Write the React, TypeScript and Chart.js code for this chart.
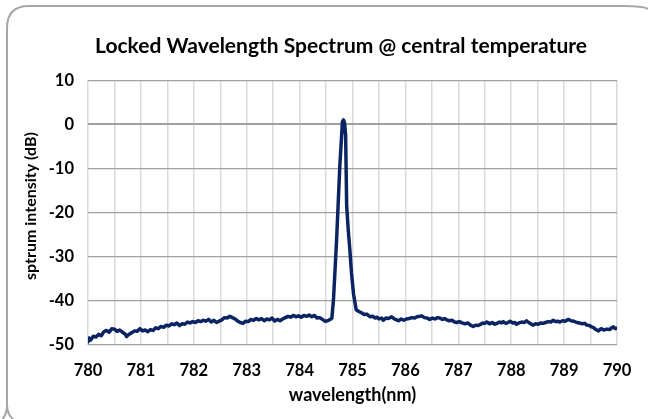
import React, { useEffect, useRef } from "react";
import { Chart, registerables } from "chart.js";

Chart.register(...registerables);

const wavelengths: number[] = [
  780.00, 780.02, 780.05, 780.10, 780.15, 780.20, 780.25, 780.30, 780.35, 780.40,
  780.45, 780.50, 780.55, 780.60, 780.65, 780.70, 780.73, 780.77, 780.83, 780.88,
  780.93, 780.98, 781.03, 781.08, 781.13, 781.18, 781.23, 781.28, 781.33, 781.38,
  781.43, 781.48, 781.53, 781.58, 781.63, 781.68, 781.73, 781.78, 781.83, 781.88,
  781.93, 781.98, 782.03, 782.08, 782.13, 782.18, 782.23, 782.28, 782.33, 782.38,
  782.43, 782.48, 782.53, 782.58, 782.63, 782.68, 782.73, 782.78, 782.83, 782.88,
  782.93, 782.98, 783.03, 783.08, 783.13, 783.18, 783.23, 783.28, 783.33, 783.38,
  783.43, 783.48, 783.53, 783.58, 783.63, 783.68, 783.73, 783.78, 783.83, 783.88,
  783.93, 783.98, 784.03, 784.08, 784.13, 784.18, 784.23, 784.28, 784.33, 784.38,
  784.43, 784.48, 784.53, 784.58, 784.61, 784.64, 784.70, 784.76, 784.81, 784.83,
  784.85, 784.87, 784.89, 784.92, 784.95, 784.98, 785.02, 785.07, 785.12, 785.17,
  785.22, 785.27, 785.33, 785.38, 785.43, 785.46, 785.50, 785.55, 785.58, 785.63,
  785.68, 785.74, 785.79, 785.83, 785.87, 785.92, 785.97, 786.02, 786.07, 786.12,
  786.17, 786.22, 786.27, 786.31, 786.36, 786.41, 786.46, 786.51, 786.56, 786.61,
  786.65, 786.70, 786.74, 786.78, 786.83, 786.88, 786.93, 786.97, 787.02, 787.07,
  787.13, 787.18, 787.23, 787.28, 787.33, 787.37, 787.41, 787.46, 787.50, 787.54,
  787.59, 787.64, 787.69, 787.73, 787.78, 787.82, 787.85, 787.90, 787.94, 787.98,
  788.03, 788.07, 788.10, 788.15, 788.20, 788.25, 788.29, 788.33, 788.37, 788.41,
  788.46, 788.51, 788.56, 788.60, 788.65, 788.70, 788.75, 788.79, 788.84, 788.88,
  788.92, 788.97, 789.02, 789.08, 789.13, 789.18, 789.24, 789.29, 789.34, 789.39,
  789.43, 789.48, 789.52, 789.55, 789.60, 789.65, 789.70, 789.75, 789.81, 789.86,
  789.90, 789.93, 789.97, 790.00,
];

const intensityDb: number[] = [
  -49.3, -48.4, -48.9, -48.0, -48.2, -47.6, -47.9, -47.0, -46.7, -47.1,
  -46.3, -46.4, -46.9, -46.6, -47.1, -47.5, -48.1, -47.6, -47.2, -46.8,
  -46.9, -46.3, -46.8, -46.6, -47.0, -46.5, -46.7, -46.1, -46.3, -45.8,
  -46.0, -45.5, -45.7, -45.2, -45.4, -45.0, -45.6, -45.2, -45.3, -44.8,
  -45.0, -44.7, -44.9, -44.5, -44.7, -44.4, -44.6, -44.2, -44.8, -44.4,
  -44.9, -44.6, -44.3, -43.8, -43.9, -43.5, -43.8, -44.1, -44.6, -44.9,
  -45.1, -44.6, -44.7, -44.2, -44.4, -44.0, -44.3, -44.0, -44.5, -44.1,
  -44.3, -43.9, -44.6, -44.2, -44.5, -44.1, -43.8, -43.5, -43.7, -43.3,
  -43.6, -43.4, -43.7, -43.3, -43.5, -43.2, -43.6, -43.3, -43.9, -43.8,
  -44.2, -44.6, -44.5, -44.2, -43.9, -39.8, -26.1, -9.5, 0.6, 1.0,
  0.3, -2.5, -18.5, -24.0, -28.4, -33.5, -38.5, -42.0, -42.4, -42.7,
  -43.1, -43.0, -43.6, -43.5, -43.9, -43.7, -44.1, -43.9, -44.4, -43.9,
  -44.0, -43.6, -44.1, -44.3, -44.5, -44.1, -44.4, -44.1, -44.0, -43.8,
  -43.9, -43.6, -43.5, -43.4, -43.8, -43.9, -44.2, -43.9, -44.1, -43.8,
  -43.9, -44.2, -44.0, -44.3, -44.5, -44.4, -44.8, -44.9, -44.7, -45.0,
  -45.2, -45.0, -45.5, -45.8, -45.5, -45.6, -45.4, -45.0, -45.1, -44.8,
  -45.2, -44.9, -45.3, -45.1, -44.8, -45.0, -44.7, -45.1, -44.9, -44.6,
  -45.0, -44.9, -45.3, -45.0, -44.8, -44.9, -44.5, -44.9, -45.2, -45.5,
  -45.2, -45.3, -45.0, -45.1, -44.9, -44.7, -44.8, -44.4, -44.7, -44.6,
  -44.8, -44.5, -44.6, -44.2, -44.5, -44.6, -44.9, -45.0, -45.2, -45.1,
  -45.5, -45.6, -45.9, -46.0, -46.5, -46.8, -46.3, -46.6, -46.4, -46.5,
  -46.1, -45.9, -46.3, -46.2,
];

const xMin = 780;
const xMax = 790;
const yMin = -50;
const yMax = 10;

const titleText = "Locked Wavelength Spectrum @ central temperature";
const xTitle = "wavelength(nm)";
const yTitle = "sptrum intensity (dB)";

const FONT = "Lato, 'Open Sans', sans-serif";

const PAD_L = 10;
const PAD_R = 31;
const PAD_B = 8;

const framePlugin = {
  id: "frame",
  beforeDraw(chart: any) {
    const ctx = chart.ctx as CanvasRenderingContext2D;
    ctx.save();
    ctx.fillStyle = "#ffffff";
    ctx.fillRect(0, 0, chart.width, chart.height);
    ctx.strokeStyle = "#a6a6a6";
    ctx.lineWidth = 2;
    const l = 7, t = 6, r = 646, b = 405, rad = 22;
    ctx.beginPath();
    ctx.moveTo(l, b);
    ctx.lineTo(l, t + rad);
    ctx.quadraticCurveTo(l, t, l + rad, t);
    ctx.lineTo(r - rad, t);
    ctx.quadraticCurveTo(r, t, r + 4, t + 4);
    ctx.stroke();
    ctx.beginPath();
    ctx.moveTo(l, b);
    ctx.quadraticCurveTo(l, b + 10, l + 8, b + 16);
    ctx.moveTo(l, b);
    ctx.quadraticCurveTo(l, b + 10, l - 6, b + 16);
    ctx.stroke();
    ctx.restore();
  },
  afterDraw(chart: any) {
    const ctx = chart.ctx as CanvasRenderingContext2D;
    ctx.save();
    ctx.fillStyle = "#000000";
    ctx.textAlign = "center";
    ctx.textBaseline = "middle";
    ctx.font = `bold 21px ${FONT}`;
    ctx.fillText(titleText, 341, 46);
    ctx.translate(31, 206);
    ctx.rotate(-Math.PI / 2);
    ctx.font = `bold 16px ${FONT}`;
    ctx.fillText(yTitle, 0, 0);
    ctx.restore();
  },
};

export default function App() {
  const canvasRef = useRef<HTMLCanvasElement | null>(null);

  useEffect(() => {
    document.body.style.margin = "0";
    const canvas = canvasRef.current;
    if (!canvas) return;
    const points = wavelengths.map((w, i) => ({ x: w, y: intensityDb[i] }));
    const chart = new Chart(canvas, {
      type: "line",
      data: {
        datasets: [
          {
            data: points,
            borderColor: "#0a2463",
            borderWidth: 3.5,
            pointRadius: 0,
            tension: 0,
            fill: false,
            borderJoinStyle: "round",
            borderCapStyle: "round",
          },
        ],
      },
      options: {
        animation: false,
        responsive: false,
        maintainAspectRatio: false,
        layout: { padding: { left: PAD_L, right: PAD_R, top: 0, bottom: PAD_B } },
        plugins: {
          legend: { display: false },
          tooltip: { enabled: false },
          title: {
            display: true,
            text: titleText,
            color: "rgba(0,0,0,0)",
            font: { family: FONT, size: 21, weight: "bold" },
            padding: { top: 34, bottom: 21 },
          },
        },
        scales: {
          x: {
            type: "linear",
            min: xMin,
            max: xMax,
            border: { display: false },
            grid: { color: "#d9d9d9", lineWidth: 1.5, drawTicks: false },
            afterFit: (s: any) => {
              s.height = 419 - 345 - PAD_B;
            },
            ticks: {
              stepSize: 0.5,
              autoSkip: false,
              maxRotation: 0,
              padding: 16,
              color: "#000000",
              font: { family: FONT, size: 16.5, weight: "bold" },
              callback: (v: any) => (Number.isInteger(Number(v)) ? String(v) : ""),
            },
            title: {
              display: true,
              text: xTitle,
              color: "#000000",
              font: { family: FONT, size: 18, weight: "bold" },
              padding: { top: 2, bottom: 5 },
            },
          },
          y: {
            type: "linear",
            min: yMin,
            max: yMax,
            border: { display: false },
            afterFit: (s: any) => {
              s.width = 88 - PAD_L;
            },
            grid: {
              color: "#a0a0a0",
              lineWidth: (c: any) => (c.tick && c.tick.value === 0 ? 2 : 1.2),
              drawTicks: false,
            },
            ticks: {
              stepSize: 10,
              padding: 14,
              color: "#000000",
              font: { family: FONT, size: 16.5, weight: "bold" },
            },
            title: { display: false },
          },
        },
      },
      plugins: [framePlugin],
    });
    return () => chart.destroy();
  }, []);

  return (
    <div style={{ width: 648, height: 419, position: "relative" }}>
      <canvas ref={canvasRef} width={648} height={419} style={{ display: "block" }} />
    </div>
  );
}
